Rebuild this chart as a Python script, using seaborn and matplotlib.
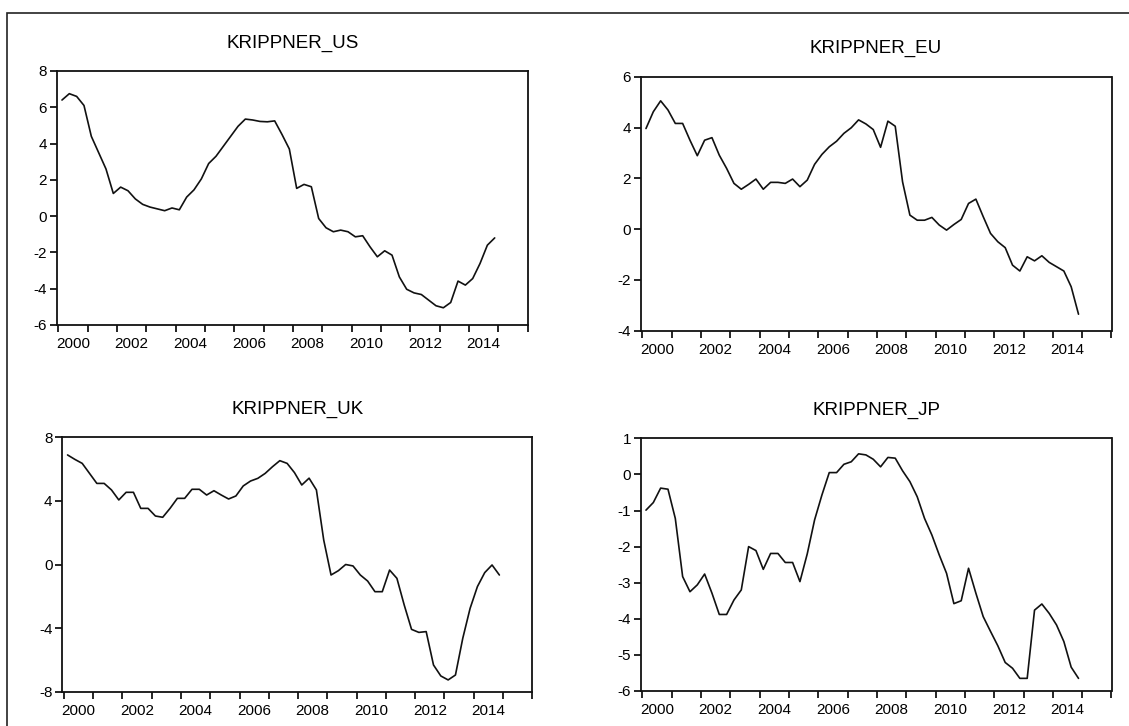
import numpy as np
import pandas as pd
import matplotlib.pyplot as plt
import seaborn as sns

# quarterly shadow short rates, 2000Q1 - 2014Q4
quarters = pd.period_range('2000Q1', '2014Q4', freq='Q')

krippner_us = [6.40, 6.75, 6.60, 6.10, 4.40, 3.50, 2.60, 1.25, 1.60, 1.40,
               0.95, 0.65, 0.50, 0.40, 0.30, 0.45, 0.35, 1.05, 1.45, 2.05,
               2.90, 3.30, 3.85, 4.40, 4.95, 5.35, 5.30, 5.22, 5.20, 5.25,
               4.50, 3.70, 1.53, 1.75, 1.62, -0.13, -0.64, -0.86, -0.77, -0.86,
               -1.14, -1.08, -1.69, -2.24, -1.91, -2.15, -3.35, -4.03, -4.23, -4.32,
               -4.63, -4.94, -5.05, -4.76, -3.58, -3.80, -3.44, -2.61, -1.60, -1.20]

krippner_eu = [3.96, 4.62, 5.05, 4.69, 4.16, 4.16, 3.50, 2.89, 3.50, 3.60,
               2.91, 2.39, 1.80, 1.57, 1.76, 1.97, 1.57, 1.84, 1.84, 1.80,
               1.97, 1.67, 1.93, 2.55, 2.94, 3.24, 3.46, 3.77, 3.99, 4.30,
               4.14, 3.92, 3.22, 4.25, 4.05, 1.86, 0.55, 0.35, 0.35, 0.46,
               0.16, -0.04, 0.18, 0.38, 1.01, 1.18, 0.49, -0.17, -0.50, -0.73,
               -1.42, -1.65, -1.09, -1.25, -1.05, -1.31, -1.48, -1.65, -2.27, -3.35]

krippner_uk = [6.89, 6.61, 6.36, 5.73, 5.10, 5.10, 4.69, 4.06, 4.54, 4.54,
               3.53, 3.53, 3.05, 2.97, 3.53, 4.16, 4.16, 4.73, 4.73, 4.37,
               4.64, 4.37, 4.12, 4.31, 4.94, 5.25, 5.42, 5.73, 6.15, 6.53,
               6.36, 5.78, 5.00, 5.43, 4.69, 1.54, -0.66, -0.39, 0.00, -0.09,
               -0.66, -1.04, -1.71, -1.71, -0.35, -0.87, -2.55, -4.08, -4.27, -4.22,
               -6.32, -7.01, -7.26, -6.95, -4.64, -2.76, -1.39, -0.51, -0.03, -0.66]

krippner_jp = [-0.99, -0.78, -0.38, -0.41, -1.22, -2.83, -3.25, -3.06, -2.76, -3.29,
               -3.88, -3.88, -3.48, -3.20, -2.00, -2.11, -2.63, -2.19, -2.19, -2.44,
               -2.44, -2.97, -2.20, -1.26, -0.57, 0.05, 0.05, 0.28, 0.35, 0.57,
               0.54, 0.42, 0.21, 0.47, 0.45, 0.10, -0.20, -0.62, -1.22, -1.68,
               -2.23, -2.74, -3.58, -3.50, -2.60, -3.29, -3.94, -4.35, -4.75, -5.21,
               -5.37, -5.65, -5.65, -3.76, -3.59, -3.85, -4.17, -4.63, -5.34, -5.65]

series_names = ['KRIPPNER_US', 'KRIPPNER_EU', 'KRIPPNER_UK', 'KRIPPNER_JP']
year_labels = ['2000', '2002', '2004', '2006', '2008', '2010', '2012', '2014']
y_ticks = {
    'KRIPPNER_US': [-6, -4, -2, 0, 2, 4, 6, 8],
    'KRIPPNER_EU': [-4, -2, 0, 2, 4, 6],
    'KRIPPNER_UK': [-8, -4, 0, 4, 8],
    'KRIPPNER_JP': [-6, -5, -4, -3, -2, -1, 0, 1],
}

df = pd.DataFrame({
    'date': quarters.year + (quarters.quarter - 0.5) / 4,
    'KRIPPNER_US': krippner_us,
    'KRIPPNER_EU': krippner_eu,
    'KRIPPNER_UK': krippner_uk,
    'KRIPPNER_JP': krippner_jp,
})
df_long = df.melt(id_vars='date', var_name='series', value_name='rate')

sns.set_style('ticks')
plt.rcParams['font.family'] = ['Liberation Sans', 'DejaVu Sans']
plt.rcParams['axes.unicode_minus'] = False
plt.rcParams['text.color'] = 'black'
plt.rcParams['xtick.color'] = 'black'
plt.rcParams['ytick.color'] = 'black'

W, H = 1129, 726
fig = plt.figure(figsize=(W / 100, H / 100), dpi=100)

# axes boxes in pixels: left, top, right, bottom
boxes = {
    'KRIPPNER_US': (56.7, 71, 527.7, 325),
    'KRIPPNER_EU': (640.7, 76.7, 1111.5, 330.7),
    'KRIPPNER_UK': (62.3, 437.3, 532.3, 691.7),
    'KRIPPNER_JP': (640.7, 438.3, 1111.5, 691),
}

for name in series_names:
    l, t, r, b = boxes[name]
    ax = fig.add_axes([l / W, 1 - b / H, (r - l) / W, (b - t) / H])
    sns.lineplot(data=df_long[df_long['series'] == name], x='date', y='rate',
                 color='#111111', linewidth=1.2, ax=ax)
    ticks = y_ticks[name]
    ax.set_ylim(ticks[0], ticks[-1])
    ax.set_yticks(ticks)
    ax.set_xlim(1999.945, 2016)
    ax.set_xticks(range(2000, 2017))
    ax.set_xticklabels([])
    ax.set_xticks([int(y) + 0.5 for y in year_labels], minor=True)
    ax.set_xticklabels(year_labels, minor=True)
    ax.tick_params(axis='x', which='minor', length=0, pad=9, labelsize=11)
    ax.tick_params(axis='x', which='major', length=5, width=1.2, direction='out')
    ax.tick_params(axis='y', length=5, width=1.2, direction='out', labelsize=11, pad=2)
    for s in ax.spines.values():
        s.set_linewidth(1.3)
        s.set_color('#111111')
    ax.set_xlabel('')
    ax.set_ylabel('')
    ax.set_title(name, fontsize=13.5, pad=17)

# outer frame of the page
frame = plt.Rectangle((7 / W, -0.05), 1.1, 1 - 13 / H + 0.05, transform=fig.transFigure,
                      fill=False, edgecolor='#222222', linewidth=1.2)
fig.patches.append(frame)

plt.savefig('out.png', dpi=100)
